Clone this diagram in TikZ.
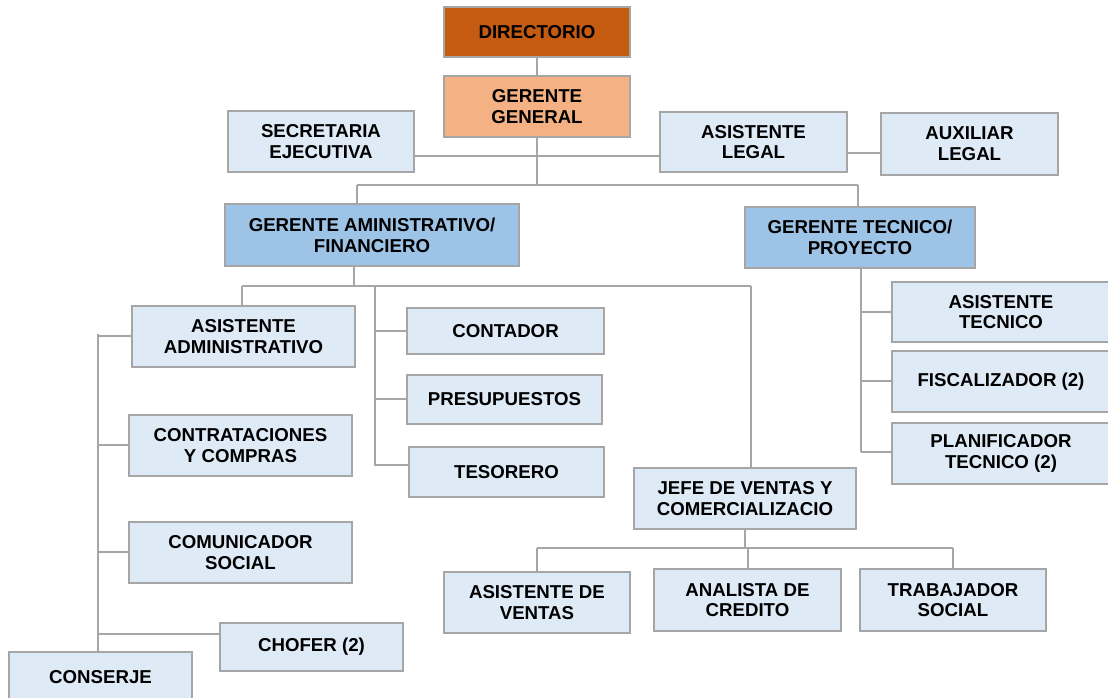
\documentclass[tikz,border=0pt]{standalone}
\usepackage{fontspec}
\setmainfont{Liberation Sans}
\definecolor{darkor}{HTML}{C55A11}
\definecolor{lightor}{HTML}{F4B183}
\definecolor{midblue}{HTML}{9DC3E6}
\definecolor{lightblue}{HTML}{DEEBF7}
\definecolor{edgegray}{HTML}{A6A6A6}
\tikzset{
  orgbox/.style={draw=edgegray, line width=1.5pt, fill=lightblue, inner sep=0pt, align=center,
    font=\fontsize{14}{15.6}\selectfont\bfseries, text=black},
  topbox/.style={orgbox, fill=darkor},
  ggbox/.style={orgbox, fill=lightor},
  mgrbox/.style={orgbox, fill=midblue},
  link/.style={draw=edgegray, line width=1.5pt}
}
\newcommand\obox[7]{%
  \node[#2, minimum width={(#5-#3)*0.75pt}, minimum height={(#6-#4)*0.75pt}] (#1)
    at ({(#3+#5)/2},{(#4+#6)/2}) {#7};}
\begin{document}
\begin{tikzpicture}[x=0.75pt,y=-0.75pt]
\useasboundingbox (0,0) rectangle (1108,698);
% bus coordinates
\coordinate (b1) at (357,185);
\coordinate (b2) at (858,185);
\coordinate (h156) at (0,156);
\coordinate (h153) at (0,153);
\coordinate (p1) at (242,286);
\coordinate (p2) at (375,286);
\coordinate (p3) at (751,286);
\coordinate (g1) at (354,286);
\coordinate (h465) at (0,465);
\coordinate (p2e) at (375,466);
\coordinate (q1) at (98,334);
\coordinate (h634) at (0,634);
\coordinate (r1) at (861,452);
\coordinate (h548) at (0,548);
% connectors (buses)
\draw[link] (b1) -- (b2);
\draw[link] (b1) -- (b1 |- 0,204);
\draw[link] (b2) -- (b2 |- 0,207);
\draw[link] (p1) -- (p3);
\draw[link] (p2) -- (p2e);
\draw[link] (r1 |- 0,268) -- (r1);
% boxes
\obox{dir}{topbox}{444}{7}{630}{57}{DIRECTORIO}
\obox{gg}{ggbox}{444}{76}{630}{137}{GERENTE\\GENERAL}
\obox{sec}{orgbox}{228}{111}{414}{172}{SECRETARIA\\EJECUTIVA}
\obox{al}{orgbox}{660}{112}{847}{172}{ASISTENTE\\LEGAL}
\obox{aux}{orgbox}{881}{113}{1058}{175}{AUXILIAR\\LEGAL}
\obox{gaf}{mgrbox}{225}{204}{519}{266}{GERENTE AMINISTRATIVO/\\FINANCIERO}
\obox{gt}{mgrbox}{745}{207}{975}{268}{GERENTE TECNICO/\\PROYECTO}
\obox{aa}{orgbox}{132}{306}{355}{367}{ASISTENTE\\ADMINISTRATIVO}
\obox{cc}{orgbox}{129}{415}{352}{476}{CONTRATACIONES\\Y COMPRAS}
\obox{com}{orgbox}{129}{522}{352}{583}{COMUNICADOR\\SOCIAL}
\obox{cho}{orgbox}{220}{623}{403}{671}{CHOFER (2)}
\obox{cons}{orgbox}{9}{652}{192}{703}{CONSERJE}
\obox{cont}{orgbox}{407}{308}{604}{354}{CONTADOR}
\obox{pres}{orgbox}{407}{375}{602}{424}{PRESUPUESTOS}
\obox{tes}{orgbox}{409}{447}{604}{497}{TESORERO}
\obox{jefe}{orgbox}{634}{468}{856}{529}{JEFE DE VENTAS Y\\COMERCIALIZACIO}
\obox{asv}{orgbox}{444}{572}{630}{633}{ASISTENTE DE\\VENTAS}
\obox{ana}{orgbox}{654}{569}{841}{631}{ANALISTA DE\\CREDITO}
\obox{trab}{orgbox}{860}{569}{1046}{631}{TRABAJADOR\\SOCIAL}
\obox{atec}{orgbox}{892}{282}{1110}{342}{ASISTENTE\\TECNICO}
\obox{fis}{orgbox}{892}{351}{1110}{412}{FISCALIZADOR (2)}
\obox{plan}{orgbox}{892}{423}{1110}{484}{PLANIFICADOR\\TECNICO (2)}
% node-to-node connectors
\draw[link] (dir.south) -- (gg.north);
\draw[link] (gg.south) -- (gg.south |- b1);
\draw[link] (sec.east |- h156) -- (al.west |- h156);
\draw[link] (al.east |- h153) -- (aux.west |- h153);
\draw[link] (g1 |- gaf.south) -- (g1);
\draw[link] (p1 |- aa.north) -- (p1);
\draw[link] (p3) -- (p3 |- jefe.north);
\draw[link] (p2 |- cont.west) -- (cont.west);
\draw[link] (p2 |- pres.west) -- (pres.west);
\draw[link] (p2 |- h465) -- (tes.west |- h465);
\draw[link] (q1) -- (q1 |- cons.north);
\draw[link] (q1 |- aa.west) -- (aa.west);
\draw[link] (q1 |- cc.west) -- (cc.west);
\draw[link] (q1 |- com.west) -- (com.west);
\draw[link] (q1 |- h634) -- (cho.west |- h634);
\draw[link] (r1 |- atec.west) -- (atec.west);
\draw[link] (r1 |- fis.west) -- (fis.west);
\draw[link] (r1) -- (plan.west |- r1);
\draw[link] (jefe.south) -- (jefe.south |- h548);
\draw[link] (asv.north |- h548) -- (trab.north |- h548);
\draw[link] (asv.north |- h548) -- (asv.north);
\draw[link] (ana.north |- h548) -- (ana.north);
\draw[link] (trab.north |- h548) -- (trab.north);
\end{tikzpicture}
\end{document}
